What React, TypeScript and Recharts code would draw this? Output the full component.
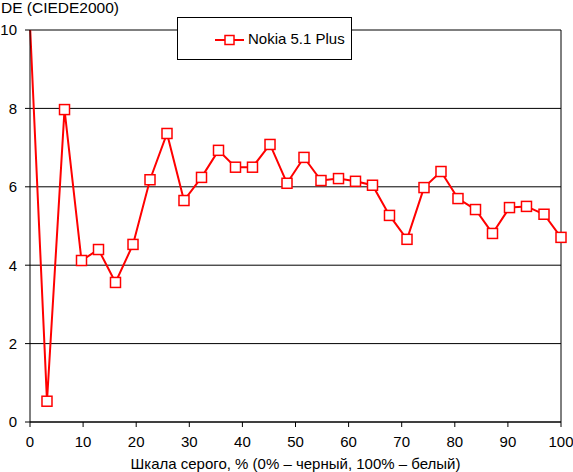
import React from 'react';
import { LineChart, Line, XAxis, YAxis, CartesianGrid, ReferenceLine, Legend } from 'recharts';

const grayLevels = [0, 3.2, 6.5, 9.7, 12.9, 16.1, 19.4, 22.6, 25.8, 29.0, 32.3, 35.5, 38.7, 41.9, 45.2, 48.4, 51.6, 54.8, 58.1, 61.3, 64.5, 67.7, 71.0, 74.2, 77.4, 80.6, 83.9, 87.1, 90.3, 93.5, 96.8, 100];
const deltaE = [10.13, 0.53, 7.97, 4.12, 4.40, 3.56, 4.53, 6.18, 7.36, 5.65, 6.24, 6.93, 6.50, 6.50, 7.08, 6.09, 6.75, 6.16, 6.21, 6.14, 6.04, 5.27, 4.66, 5.98, 6.39, 5.70, 5.42, 4.81, 5.47, 5.50, 5.30, 4.71];
const xTicks = [0, 10, 20, 30, 40, 50, 60, 70, 80, 90, 100];
const yTicks = [0, 2, 4, 6, 8, 10];
const seriesName = 'Nokia 5.1 Plus';
const xTitle = 'Шкала серого, % (0% – черный, 100% – белый)';
const yTitle = 'DE (CIEDE2000)';

const data = grayLevels.map((x, i) => ({ x, de: deltaE[i] }));

const FONT = '"Liberation Sans", Arial, sans-serif';
const RED = '#ff0000';

const SquareDot = (props: any) => {
  const { cx, cy, index } = props;
  if (index === 0 || cx == null || cy == null) return <g key={`d${index}`} />;
  return <rect key={`d${index}`} x={cx - 5} y={cy - 5} width={10} height={10} fill="#fff" stroke={RED} strokeWidth={1.5} />;
};

const YTitle = () => (
  <text x={1} y={13} textAnchor="start" fontFamily={FONT} fontSize={15.5} fill="#000">{yTitle}</text>
);

const LegendBox = () => (
  <div style={{ width: 175, height: 43, boxSizing: 'border-box', border: '1px solid #000', background: '#fff', position: 'relative', fontFamily: FONT }}>
    <svg width={40} height={20} style={{ position: 'absolute', left: 36, top: 12 }}>
      <line x1={1} y1={10} x2={30} y2={10} stroke={RED} strokeWidth={2} />
      <rect x={11} y={5.5} width={9} height={9} fill="#fff" stroke={RED} strokeWidth={1.5} />
    </svg>
    <span style={{ position: 'absolute', left: 70, top: 12, fontSize: 15, lineHeight: '18px', color: '#000', whiteSpace: 'nowrap' }}>{seriesName}</span>
  </div>
);

export default function App() {
  return (
    <div style={{ position: 'absolute', left: 0, top: 0, width: 573, height: 472, background: '#fff' }}>
      <LineChart width={573} height={472} data={data} margin={{ top: 30, right: 12, bottom: 0, left: 0 }}>
        <CartesianGrid vertical={false} stroke="#000" strokeWidth={1} />
        <XAxis
          dataKey="x"
          type="number"
          domain={[0, 100]}
          ticks={xTicks}
          interval={0}
          height={50}
          tickSize={5}
          tickMargin={9}
          stroke="#000"
          tick={{ fill: '#000', fontFamily: FONT, fontSize: 15 }}
          tickLine={{ stroke: '#000' }}
          axisLine={{ stroke: '#000' }}
          label={{ value: xTitle, position: 'insideBottom', offset: 3, fill: '#000', fontFamily: FONT, fontSize: 15 }}
        />
        <YAxis
          type="number"
          domain={[0, 10]}
          ticks={yTicks}
          interval={0}
          allowDataOverflow
          width={30}
          tickSize={5}
          tickMargin={8}
          stroke="#000"
          tick={{ fill: '#000', fontFamily: FONT, fontSize: 15 }}
          tickLine={{ stroke: '#000' }}
          axisLine={{ stroke: '#000' }}
          label={<YTitle />}
        />
        <ReferenceLine x={100} stroke="#000" strokeWidth={1} />
        <Legend
          layout="horizontal"
          verticalAlign="middle"
          align="center"
          content={() => <LegendBox />}
          wrapperStyle={{ position: 'absolute', left: 177, top: 17, width: 175, height: 43 }}
        />
        <Line
          type="linear"
          dataKey="de"
          name={seriesName}
          stroke={RED}
          strokeWidth={2}
          dot={<SquareDot />}
          activeDot={false}
          isAnimationActive={false}
        />
      </LineChart>
    </div>
  );
}
